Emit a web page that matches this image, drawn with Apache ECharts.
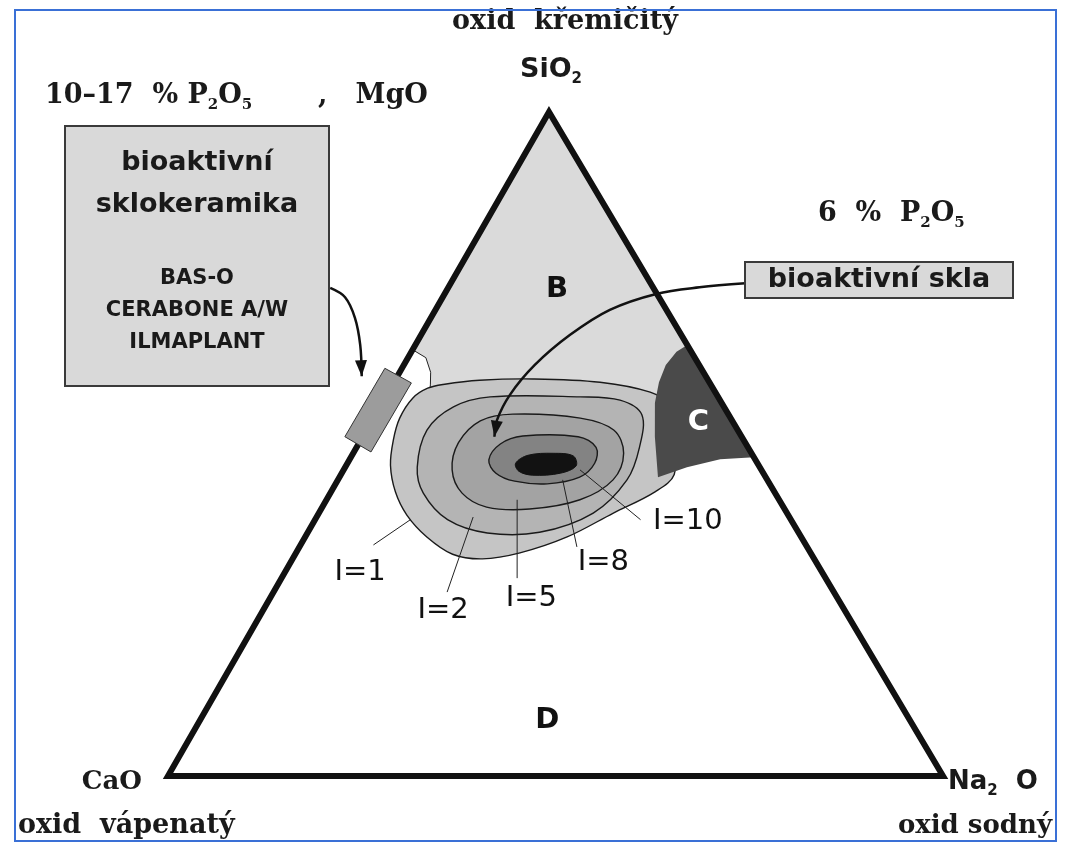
<!DOCTYPE html>
<html>
<head>
<meta charset="utf-8">
<script src="https://cdn.jsdelivr.net/npm/echarts@6/dist/echarts.min.js"></script>
<style>
    html, body { margin: 0; background: #fff; }
    #chart { width: 1090px; height: 843px; }
</style>
</head>
<body>
<div id="chart"></div>
<script>
// Compositions as [SiO2 %, Na2O %], CaO is the rest
var corners = [[0, 0], [0, 100], [100, 0]]   // CaO, Na2O, SiO2

var regionB = [[100, 0], [64.2, 0], [63.0, 2.3], [60.8, 4.0], [58.9, 4.9], [57.4, 5.5], [56.6, 22.7], [56.6, 36.3], [64.9, 35.1]]
var regionC = [[64.9, 35.1], [63.9, 34.2], [61.9, 33.8], [59.3, 34.2], [56.2, 35.2], [51.1, 37.7], [45.0, 41.1], [46.5, 44.1], [47.7, 47.8], [48.0, 52.0]]

// iso-bioactivity contours
var iso1 = [[58.4, 4.8], [56.9, 3.6], [53.9, 3.4], [50.6, 4.2], [46.8, 5.7], [42.8, 8.3], [39.3, 11.5], [36.0, 15.7], [33.4, 20.3], [32.7, 24.5],
    [33.6, 28.9], [36.0, 33.8], [39.6, 38.0], [42.8, 41.8], [45.4, 43.0], [50.6, 40.3], [55.9, 37.0], [57.8, 33.8], [59.3, 26.6], [59.8, 17.7], [59.6, 10.9], [59.0, 6.7]]
var iso2 = [[46.5, 9.3], [42.6, 12.0], [38.6, 17.1], [36.6, 23.2], [36.7, 29.9], [39.6, 35.4], [44.6, 37.3], [49.5, 36.5], [54.4, 34.4],
    [56.6, 30.5], [57.1, 25.1], [57.1, 13.5], [55.6, 9.5], [52.1, 7.8]]
var iso5 = [[46.1, 14.0], [42.6, 17.0], [40.5, 21.2], [40.2, 26.9], [41.6, 32.7], [44.6, 35.5], [48.6, 34.9], [52.1, 31.9], [53.9, 26.7],
    [54.5, 17.7], [53.5, 14.0], [50.2, 12.8]]
var iso8 = [[47.6, 18.0], [45.6, 19.9], [44.4, 22.9], [44.0, 27.3], [45.0, 31.0], [47.1, 31.9], [49.5, 30.9], [51.1, 27.8], [51.2, 20.6], [50.0, 18.3]]
var iso10 = [[47.1, 21.7], [48.3, 22.7], [48.6, 25.8], [48.2, 28.6], [46.7, 29.7], [45.6, 28.2], [45.3, 24.8], [45.9, 22.7]]

var isoNames = ['I=1', 'I=2', 'I=5', 'I=8', 'I=10']
var isoLabelAt = [[30.7, 9.7], [25.0, 23.2], [26.8, 33.7], [32.1, 40.4], [38.4, 48.2]]
var isoLeaders = [
    [[38.6, 12.3], [34.8, 9.4]],
    [[39.0, 20.2], [27.7, 22.4]],
    [[41.6, 24.6], [29.8, 30.4]],
    [[44.6, 29.0], [34.5, 35.8]],
    [[46.1, 30.5], [38.6, 42.0]]
]

var regionNames = ['B', 'C', 'D']
var regionLabelAt = [[73.2, 14.2], [53.2, 42.3], [8.4, 44.8]]

// glass-ceramics marker on the CaO-SiO2 side and the two pointer arrows
var glassCeramic = [[61.4, -2.2], [59.2, 2.3], [48.8, 2.2], [51.1, -2.3]]
var arrowCeramic = [[73.5, -15.2], [72.1, -12.6], [69.0, -9.8], [64.9, -7.1], [60.2, -4.6]]
var arrowGlass = [[74.2, 38.0], [73.6, 32.4], [72.6, 27.3], [70.2, 22.5], [66.4, 19.2], [61.9, 16.9], [57.4, 15.9], [53.6, 16.1], [51.1, 17.0]]

// the SiO2 corner sits a little left of the middle of the base in the drawing
var APEX = 49.16
function toXY(p) {
    return [p[1] + p[0] * APEX / 100, p[0]]
}

var SLAB = "'DejaVu Serif', 'Liberation Serif', serif"
var SANS = "'DejaVu Sans', 'Liberation Sans', sans-serif"

function px(api, pts) {
    return pts.map(function (p) { return api.coord(toXY(p)) })
}

function shape(pts, style, smooth, z) {
    return {
        type: 'custom',
        coordinateSystem: 'cartesian2d',
        silent: true,
        z: z,
        data: [[0, 0]],
        renderItem: function (params, api) {
            return {
                type: 'polygon',
                shape: { points: px(api, pts), smooth: smooth },
                style: style
            }
        }
    }
}

function arrowHead(a, b, len, half) {
    var dx = b[0] - a[0], dy = b[1] - a[1]
    var d = Math.sqrt(dx * dx + dy * dy)
    dx /= d; dy /= d
    return [
        [b[0], b[1]],
        [b[0] - dx * len - dy * half, b[1] - dy * len + dx * half],
        [b[0] - dx * len + dy * half, b[1] - dy * len - dx * half]
    ]
}

function arrow(pts, z) {
    return {
        type: 'custom',
        coordinateSystem: 'cartesian2d',
        silent: true,
        z: z,
        data: [[0, 0]],
        renderItem: function (params, api) {
            var p = px(api, pts)
            return {
                type: 'group',
                children: [
                    { type: 'polyline', shape: { points: p, smooth: 0.35 }, style: { fill: null, stroke: '#111', lineWidth: 2.5 } },
                    { type: 'polygon', shape: { points: arrowHead(p[p.length - 2], p[p.length - 1], 16, 6) }, style: { fill: '#111' } }
                ]
            }
        }
    }
}

var series = [
    shape(regionB, { fill: '#dadada', stroke: '#222', lineWidth: 1 }, 0, 1),
    shape(iso1, { fill: '#c5c5c5', stroke: '#1a1a1a', lineWidth: 1.4 }, 0.35, 2),
    shape(iso2, { fill: '#b4b4b4', stroke: '#1a1a1a', lineWidth: 1.4 }, 0.35, 3),
    shape(iso5, { fill: '#a3a3a3', stroke: '#1a1a1a', lineWidth: 1.4 }, 0.35, 4),
    shape(iso8, { fill: '#838383', stroke: '#1a1a1a', lineWidth: 1.4 }, 0.35, 5),
    shape(iso10, { fill: '#121212', stroke: '#121212', lineWidth: 1 }, 0.35, 6),
    shape(regionC, { fill: '#4a4a4a' }, 0, 7),
    shape(corners, { fill: null, stroke: '#111', lineWidth: 6, lineJoin: 'miter' }, 0, 8),
    shape(glassCeramic, { fill: '#9c9c9c', stroke: '#333', lineWidth: 1 }, 0, 9),
    arrow(arrowCeramic, 10),
    arrow(arrowGlass, 10),
    {
        // leader lines and labels of the contours
        type: 'custom',
        coordinateSystem: 'cartesian2d',
        silent: true,
        z: 11,
        data: isoNames.map(function (n, i) { return [i, 0] }),
        renderItem: function (params, api) {
            var i = params.dataIndex
            var l = px(api, isoLeaders[i])
            var t = api.coord(toXY(isoLabelAt[i]))
            return {
                type: 'group',
                children: [
                    { type: 'line', shape: { x1: l[0][0], y1: l[0][1], x2: l[1][0], y2: l[1][1] }, style: { stroke: '#222', lineWidth: 1 } },
                    { type: 'text', x: t[0], y: t[1], style: { text: isoNames[i], fontSize: 29, fontFamily: SANS, fill: '#111', align: 'center', verticalAlign: 'middle' } }
                ]
            }
        }
    },
    {
        type: 'custom',
        coordinateSystem: 'cartesian2d',
        silent: true,
        z: 12,
        data: regionNames.map(function (n, i) { return [i, 0] }),
        renderItem: function (params, api) {
            var i = params.dataIndex
            var t = api.coord(toXY(regionLabelAt[i]))
            return {
                type: 'text', x: t[0], y: t[1],
                style: { text: regionNames[i], fontSize: 29, fontWeight: 'bold', fontFamily: SANS, fill: regionNames[i] === 'C' ? '#fff' : '#111', align: 'center', verticalAlign: 'middle' }
            }
        }
    }
]

function txt(text, x, y, size, family, align, rich) {
    return {
        type: 'text', x: x, y: y, z: 20,
        style: { text: text, fontSize: size, fontWeight: 'bold', fontFamily: family, fill: '#1a1a1a', align: align, verticalAlign: 'middle', rich: rich }
    }
}

function sub(family, size) {
    return {
        n: { fontSize: size, fontWeight: 'bold', fontFamily: family, fill: '#1a1a1a', lineHeight: 34, verticalAlign: 'middle' },
        s: { fontSize: 15, fontWeight: 'bold', fontFamily: family, fill: '#1a1a1a', lineHeight: 34, verticalAlign: 'bottom' }
    }
}

var option = {
    backgroundColor: '#fff',
    animation: false,
    grid: { left: 168, top: 112, width: 775, height: 664 },
    xAxis: { type: 'value', min: 0, max: 100, show: false },
    yAxis: { type: 'value', min: 0, max: 100, show: false },
    series: series,
    graphic: [
        { type: 'rect', z: 30, shape: { x: 15, y: 10, width: 1041, height: 831 }, style: { fill: null, stroke: '#3a70d6', lineWidth: 2 } },
        txt('oxid  křemičitý', 565, 22, 27, SLAB, 'center'),
        txt('{n|SiO}{s|2}', 551, 70, 27, SANS, 'center', sub(SANS, 27)),
        txt('{n|10–17  % P}{s|2}{n|O}{s|5}{n|       ,   MgO}', 45, 96, 27, SLAB, 'left', sub(SLAB, 27)),
        txt('{n|6  %  P}{s|2}{n|O}{s|5}', 818, 214, 27, SLAB, 'left', sub(SLAB, 27)),
        txt('CaO', 142, 782, 26, SLAB, 'right'),
        txt('oxid  vápenatý', 18, 826, 27, SLAB, 'left'),
        txt('{n|Na}{s|2}{n|  O}', 948, 782, 26, SANS, 'left', sub(SANS, 26)),
        txt('oxid sodný', 1052, 826, 26, SLAB, 'right'),
        { type: 'rect', z: 15, shape: { x: 65, y: 126, width: 264, height: 260 }, style: { fill: '#d9d9d9', stroke: '#3a3a3a', lineWidth: 2 } },
        txt('bioaktivní', 197, 163, 27, SANS, 'center'),
        txt('sklokeramika', 197, 205, 27, SANS, 'center'),
        txt('BAS-O', 197, 279, 21, SANS, 'center'),
        txt('CERABONE A/W', 197, 311, 21, SANS, 'center'),
        txt('ILMAPLANT', 197, 343, 21, SANS, 'center'),
        { type: 'rect', z: 15, shape: { x: 745, y: 262, width: 268, height: 36 }, style: { fill: '#d9d9d9', stroke: '#3a3a3a', lineWidth: 2 } },
        txt('bioaktivní skla', 879, 280, 27, SANS, 'center')
    ]
}

var chart = echarts.init(document.getElementById('chart'))
chart.setOption(option)
</script>
</body>
</html>
